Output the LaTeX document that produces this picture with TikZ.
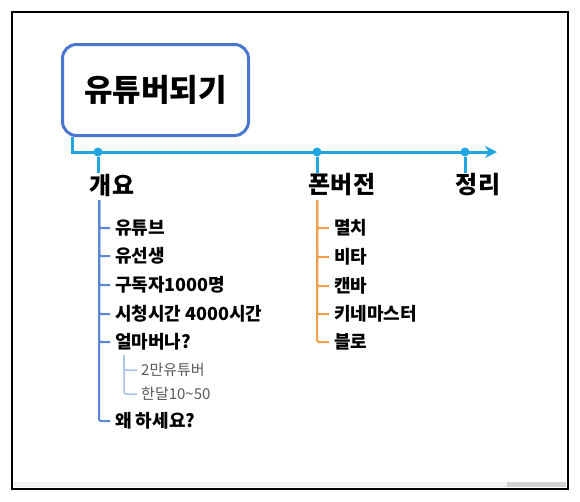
\documentclass[tikz,border=0pt]{standalone}
\usepackage{fontspec}
\setmainfont{Noto Sans CJK KR}
\usepackage{tikz}
\usetikzlibrary{arrows.meta}
\definecolor{titleblue}{HTML}{4A76CF}
\definecolor{lineblue}{HTML}{1FA5E0}
\definecolor{branchblue}{HTML}{5A86D8}
\definecolor{subblue}{HTML}{A9C1EA}
\definecolor{branchorange}{HTML}{F19F4D}
\definecolor{subgray}{HTML}{595959}

\begin{document}
\begin{tikzpicture}[x=1pt,y=-1pt,
  title/.style={draw=titleblue, line width=3pt, rounded corners=14pt, minimum width=186pt, minimum height=91pt, font=\fontsize{31}{33}\selectfont\bfseries},
  timeline/.style={draw=lineblue, line width=3pt},
  dot/.style={circle, fill=lineblue, minimum size=9pt, inner sep=0pt},
  head/.style={font=\fontsize{24}{26}\selectfont\bfseries, inner sep=1pt},
  item/.style={anchor=west, inner sep=5pt, font=\fontsize{18}{20}\selectfont\bfseries},
  subitem/.style={anchor=west, inner sep=4pt, text=subgray, font=\fontsize{15}{17}\selectfont},
  branch/.style={draw=#1, line width=2pt, rounded corners=2pt}]
\useasboundingbox (0,0) rectangle (580,501);
% frame
\fill[gray!10] (14,482) rectangle (566,487);
\fill[gray!35] (507,482) rectangle (566,487);
\draw[line width=2pt] (12,12) rectangle (568,489);

% title and time line
\node [title] (t) at (155.5,90) {유튜버되기};
\coordinate (tlend) at (497,152);
\draw [timeline, -{Stealth[length=12pt,width=12pt]}] ([xshift=11pt]t.south west) |- (tlend);
\node [dot] (d1) at (98,152) {};
\node [dot] (d2) at (317,152) {};
\node [dot] (d3) at (465,152) {};
\node [head] (ov) at (112,185) {개요};
\node [head] (ph) at (342,185) {폰버전};
\node [head] (sm) at (478,185) {정리};
\draw [timeline] (d1) -- (d1 |- ov.north);
\draw [timeline] (d2) -- (d2 |- ph.north);
\draw [timeline] (d3) -- (d3 |- sm.north);

% 개요
\coordinate (ovs) at (99,200);
\node [item] (o1) at (110,228) {유튜브};
\node [item] (o2) at (110,256) {유선생};
\node [item] (o3) at (110,285) {구독자1000명};
\node [item] (o4) at (110,314) {시청시간 4000시간};
\node [item] (o5) at (110,342) {얼마버나?};
\node [item] (o6) at (110,421) {왜 하세요?};
\foreach \n in {o1,o2,o3,o4,o5,o6}
  \draw [branch=branchblue] (ovs) |- (\n.west);
\coordinate (o5s) at (124,355);
\node [subitem] (o51) at (137,370) {2만유튜버};
\node [subitem] (o52) at (137,394) {한달10\textasciitilde50};
\draw [branch=subblue, line width=1.5pt] (o5s) |- (o51.west);
\draw [branch=subblue, line width=1.5pt] (o5s) |- (o52.west);

% 폰버전
\coordinate (phs) at (317,200);
\node [item] (p1) at (329,228) {멸치};
\node [item] (p2) at (329,257) {비타};
\node [item] (p3) at (329,286) {캔바};
\node [item] (p4) at (329,314) {키네마스터};
\node [item] (p5) at (329,342) {블로};
\foreach \n in {p1,p2,p3,p4,p5}
  \draw [branch=branchorange] (phs) |- (\n.west);
\end{tikzpicture}
\end{document}
